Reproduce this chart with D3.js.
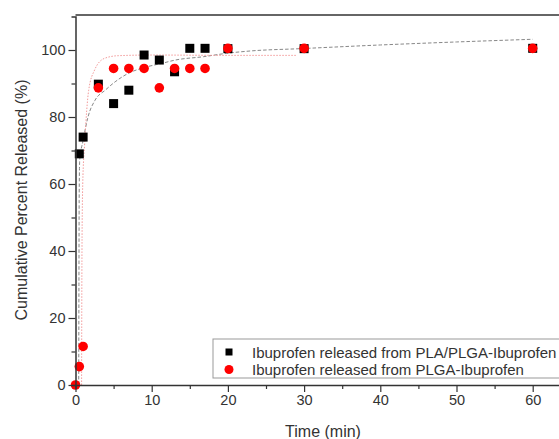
<!DOCTYPE html>
<html>
<head>
<meta charset="utf-8">
<script src="https://cdn.jsdelivr.net/npm/d3@7"></script>
<style>
  body { margin: 0; background: #fff; }
  svg text { font-family: "Liberation Sans", Arial, sans-serif; fill: #333; }
</style>
</head>
<body>
<svg id="chart" width="559" height="439"></svg>
<script>
// measured points
var timesA = [0.5, 1, 3, 5, 7, 9, 11, 13, 15, 17, 20, 30, 60];
var releaseA = [69, 74, 89.8, 84, 88, 98.5, 97, 93.5, 100.5, 100.5, 100.4, 100.4, 100.5];
var timesB = [0, 0.5, 1, 3, 5, 7, 9, 11, 13, 15, 17, 20, 30, 60];
var releaseB = [0, 5.5, 11.5, 88.7, 94.5, 94.5, 94.5, 88.7, 94.5, 94.5, 94.5, 100.5, 100.5, 100.5];

// fitted curves
var fitTimesA = [0.42, 0.45, 0.48, 0.55, 1.0, 1.64, 2.56, 3.9, 5.2, 6.9, 9.1, 11.3, 13.1, 16.8, 19.8, 22.9, 29.5, 40, 50, 60];
var fitA = [0, 30, 55, 67, 73, 80, 85, 88, 90.5, 93, 94.8, 96, 97, 98, 99, 99.7, 100.4, 101.5, 102.4, 103.2];
var fitTimesB = [0.8, 0.85, 0.95, 1.2, 1.73, 2.5, 3.8, 5.6, 10, 20, 29];
var fitB = [0, 40, 60, 72, 88, 94, 97.5, 98.3, 98.5, 98.4, 98.4];

var xTicks = [0, 10, 20, 30, 40, 50, 60];
var yTicks = [0, 20, 40, 60, 80, 100];
var legendLabels = ["Ibuprofen released from PLA/PLGA-Ibuprofen", "Ibuprofen released from PLGA-Ibuprofen"];

var svg = d3.select("#chart");
var x = d3.scaleLinear().domain([0, 65]).range([75.5, 570.8]);
var y = d3.scaleLinear().domain([0, 110]).range([385, 16.5]);

var g = svg.append("g");

// fit lines
var line = d3.line().x(function(d) { return x(d[0]); }).y(function(d) { return y(d[1]); }).curve(d3.curveMonotoneX);

g.append("path")
  .datum(fitTimesA.map(function(t, i) { return [t, fitA[i]]; }))
  .attr("d", line)
  .attr("fill", "none")
  .attr("stroke", "#888")
  .attr("stroke-width", 1)
  .attr("stroke-dasharray", "3.5,2");

g.append("path")
  .datum(fitTimesB.map(function(t, i) { return [t, fitB[i]]; }))
  .attr("d", line)
  .attr("fill", "none")
  .attr("stroke", "#f39a9a")
  .attr("stroke-width", 1)
  .attr("stroke-dasharray", "1.5,1.5");

// axes
var xAxis = d3.axisBottom(x).tickValues(d3.range(0, 65, 5)).tickSize(4).tickFormat(function(d) {
  return xTicks.indexOf(d) >= 0 ? d : "";
});
var yAxis = d3.axisLeft(y).tickValues(d3.range(0, 110, 10)).tickSize(4).tickFormat(function(d) {
  return yTicks.indexOf(d) >= 0 ? d : "";
});

var gx = svg.append("g").attr("transform", "translate(0,385)").call(xAxis);
var gy = svg.append("g").attr("transform", "translate(75.5,0)").call(yAxis);

[gx, gy].forEach(function(a) {
  a.select(".domain").attr("stroke", "#333").attr("stroke-width", 1.5);
  a.selectAll(".tick line").attr("stroke", "#333").attr("stroke-width", 1.2);
  a.selectAll(".tick text").style("font-size", "14.5px").attr("fill", "#333");
});
gx.selectAll(".tick").filter(function(d) { return xTicks.indexOf(d) >= 0; }).select("line").attr("y2", 7);
gx.selectAll(".tick text").attr("y", 10);
gy.selectAll(".tick").filter(function(d) { return yTicks.indexOf(d) >= 0; }).select("line").attr("x2", -7);
gy.selectAll(".tick text").attr("x", -10);

// top spine
svg.append("line")
  .attr("x1", 75.5).attr("x2", 570.8)
  .attr("y1", y(110) - 1.5).attr("y2", y(110) - 1.5)
  .attr("stroke", "#333").attr("stroke-width", 1.5);

// markers
g.selectAll(".sq").data(timesA).enter().append("rect")
  .attr("class", "sq")
  .attr("x", function(d) { return x(d) - 4.5; })
  .attr("y", function(d, i) { return y(releaseA[i]) - 4.5; })
  .attr("width", 9).attr("height", 9)
  .attr("fill", "#000");

g.selectAll(".dot").data(timesB).enter().append("circle")
  .attr("class", "dot")
  .attr("cx", function(d) { return x(d); })
  .attr("cy", function(d, i) { return y(releaseB[i]); })
  .attr("r", 4.8)
  .attr("fill", "#ff0000");

// legend
var lg = svg.append("g");
lg.append("rect")
  .attr("x", 213).attr("y", 339).attr("width", 360).attr("height", 39)
  .attr("fill", "#fff").attr("stroke", "#999").attr("stroke-width", 1);
lg.append("rect").attr("x", 225.5).attr("y", 348.5).attr("width", 7).attr("height", 7).attr("fill", "#000");
lg.append("circle").attr("cx", 229).attr("cy", 369.5).attr("r", 4.5).attr("fill", "#ff0000");
legendLabels.forEach(function(t, i) {
  lg.append("text").attr("x", 252).attr("y", 357.5 + i * 17.5)
    .style("font-size", "15px").text(t);
});

// axis titles
svg.append("text")
  .attr("x", 323).attr("y", 437)
  .attr("text-anchor", "middle")
  .style("font-size", "16px")
  .text("Time (min)");

svg.append("text")
  .attr("transform", "translate(27,200) rotate(-90)")
  .attr("text-anchor", "middle")
  .style("font-size", "16px")
  .text("Cumulative Percent Released (%)");
</script>
</body>
</html>
